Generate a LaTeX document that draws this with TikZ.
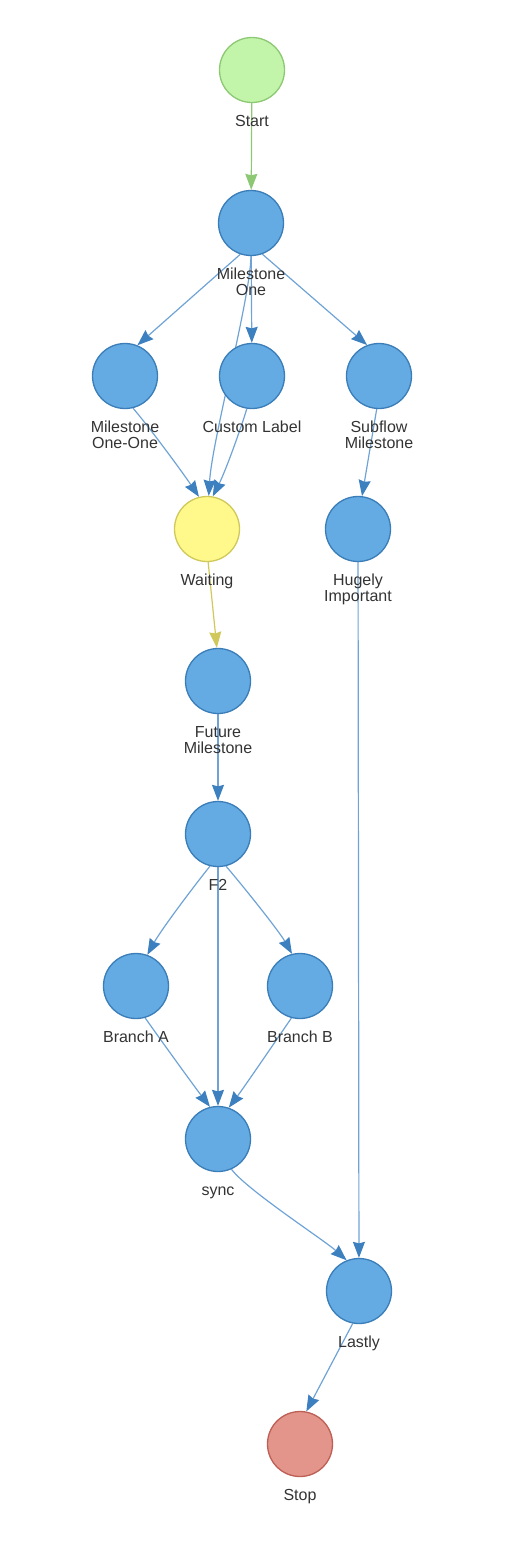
\documentclass[tikz,border=0pt]{standalone}
\usepackage{fontspec}
\setmainfont{Liberation Sans}
\usetikzlibrary{positioning,arrows.meta,backgrounds}

\definecolor{stepfill}{HTML}{64ABE3}
\definecolor{stepline}{HTML}{3A7DB8}
\definecolor{flowline}{HTML}{6FA3D6}
\definecolor{flowtip}{HTML}{3D80BF}
\definecolor{startfill}{HTML}{C2F5A9}
\definecolor{startline}{HTML}{8DC874}
\definecolor{waitfill}{HTML}{FFF98C}
\definecolor{waitline}{HTML}{D0C85A}
\definecolor{stopfill}{HTML}{E3958B}
\definecolor{stopline}{HTML}{BE5F55}
\definecolor{captext}{HTML}{333333}

\begin{document}
\begin{tikzpicture}[x=1pt,y=-1pt,line join=round,
  ms/.style={circle,minimum size=65pt,inner sep=0pt,line width=1.3pt,
    draw=stepline,fill=stepfill},
  startpt/.style={ms,draw=startline,fill=startfill},
  waitpt/.style={ms,draw=waitline,fill=waitfill},
  stoppt/.style={ms,draw=stopline,fill=stopfill},
  captxt/.style={font=\fontsize{16}{15.7}\selectfont,text=captext,align=center,
    inner sep=0pt,execute at begin node={\vphantom{A}}},
  flow/.style={line width=1.2pt,draw=flowline,
    -{Stealth[length=16pt,width=12pt,inset=1.5pt,color=flowtip]}},
  greenflow/.style={line width=1.2pt,draw=startline,
    -{Stealth[length=16pt,width=12pt,inset=1.5pt,color=startline]}},
  yellowflow/.style={line width=1.2pt,draw=waitline,
    -{Stealth[length=16pt,width=12pt,inset=1.5pt,color=waitline]}}]
  % Page frame, same proportions as the screen grab.
  \useasboundingbox (0,0) rectangle (522,1545);

  % A helper that puts a round stage at a point and writes its
  % caption just underneath it.
  \def\stage#1#2#3#4{
    % #1 = node name, #2 = style, #3 = (x,y), #4 = caption
    \node[#2] (#1) at #3 {};
    \node[captxt,below=12pt of #1] (#1-cap) {#4};
  }

  % Main column and the subflow on the right.
  \stage{start}{startpt}{(252,70)}{Start}
  \stage{mo}{ms}{(251,223)}{Milestone\\One}
  \stage{moo}{ms}{(125,376)}{Milestone\\One-One}
  \stage{cl}{ms}{(252,376)}{Custom Label}
  \stage{sm}{ms}{(379,376)}{Subflow\\Milestone}
  \stage{wait}{waitpt}{(207,529)}{Waiting}
  \stage{hi}{ms}{(358,529)}{Hugely\\Important}
  \stage{fm}{ms}{(218,681)}{Future\\Milestone}
  \stage{ftwo}{ms}{(218,834)}{F2}

  % The fork below F2.
  \stage{bra}{ms}{(136,986)}{Branch A}
  \stage{brb}{ms}{(300,986)}{Branch B}
  \stage{sync}{ms}{(218,1139)}{sync}
  \stage{last}{ms}{(359,1291)}{Lastly}
  \stage{stop}{stoppt}{(300,1444)}{Stop}

  % Edges go behind the circles (one of them runs under Custom Label).
  \begin{pgfonlayer}{background}
    \draw[greenflow] (start) -- (mo);
    \draw[flow] (mo.-109) -- (moo.68);
    \draw[flow] (mo) -- (cl);
    \draw[flow] (mo.-70) -- (sm.111);
    \draw[flow] (mo.-90) .. controls (250,300) and (212,440) .. (wait.87);
    \draw[flow] (cl.-99) .. controls (241,428) and (226,470) .. (wait.80);
    \draw[flow] (moo.-76) .. controls (150,428) and (183,473) .. (wait.104);
    \draw[flow] (sm.-94) -- (hi.83);
    \draw[yellowflow] (wait.-88) -- (fm.92);
    \draw[flow] (hi) -- (last);
    \draw[flow] (fm) -- (ftwo);
    \draw[flow] (ftwo.-104) .. controls (194,886) and (161,930) .. (bra.70);
    \draw[flow] (ftwo) -- (sync);
    \draw[flow] (ftwo.-76) .. controls (243,886) and (279,931) .. (brb.104);
    \draw[flow] (bra.-74) .. controls (160,1039) and (194,1086) .. (sync.104);
    \draw[flow] (brb.-105) .. controls (277,1039) and (245,1086) .. (sync.71);
    \draw[flow] (sync.-66) .. controls (247,1190) and (324,1240) .. (last.112);
    \draw[flow] (last.-101) -- (stop.79);
  \end{pgfonlayer}
\end{tikzpicture}
\end{document}
